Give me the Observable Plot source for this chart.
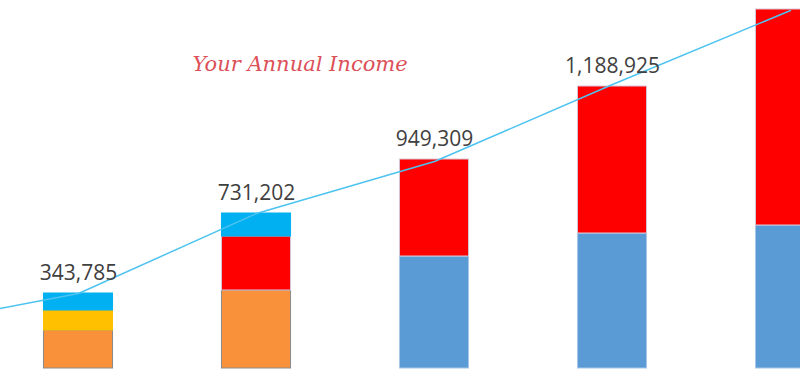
<!DOCTYPE html>
<html>
<head>
<meta charset="utf-8">
<script src="https://cdn.jsdelivr.net/npm/d3@7"></script>
<script src="https://cdn.jsdelivr.net/npm/@observablehq/plot@0.6"></script>
<style>
  html, body { margin: 0; padding: 0; background: #fff; }
  #chart { width: 800px; height: 381px; overflow: hidden; }
</style>
</head>
<body>
<div id="chart"></div>
<script>
// ---- Data ----
const barIndex   = [0, 1, 2, 3, 4];
const orangePart = [171000, 351000, 0, 0, 0];
const yellowPart = [90000, 0, 0, 0, 0];
const bluePart   = [0, 0, 504000, 607500, 643500];
const redPart    = [0, 243000, 436500, 661500, 972000];
const cyanPart   = [76500, 103500, 0, 0, 0];

const seriesNames  = ["orange", "yellow", "blue", "red", "cyan"];
const seriesValues = [orangePart, yellowPart, bluePart, redPart, cyanPart];
const seriesColors = ["#f9913a", "#ffc000", "#5b9bd5", "#ff0000", "#00b0f0"];
const seriesStroke = ["#8a8a8a", "#ffc000", "#a9c8e8", "#d7c6d6", "#00b0f0"];

const labelIndex = [0, 1, 2, 3];
const labelText  = ["343,785", "731,202", "949,309", "1,188,925"];

const lineIndex  = [-1, 0, 1, 2, 3, 4];
const lineValues = [184500, 337500, 697500, 931500, 1278000, 1611000];

const titleText = "Your Annual Income";

// ---- Build tables ----
const segments = [];
const totals = barIndex.map(() => 0);
barIndex.forEach((b, bi) => {
  seriesNames.forEach((s, si) => {
    const v = seriesValues[si][bi];
    if (v > 0) {
      segments.push({i: b, series: s, y1: totals[bi], y2: totals[bi] + v,
                     fill: seriesColors[si], stroke: seriesStroke[si]});
      totals[bi] += v;
    }
  });
});
const labels = labelIndex.map((b, k) => ({i: b, y: totals[b], text: labelText[k]}));
const linePts = lineIndex.map((b, k) => ({i: b, y: lineValues[k]}));

const half = 0.194;

const chart = Plot.plot({
  width: 800,
  height: 381,
  marginTop: 0,
  marginBottom: 13,
  marginLeft: 0,
  marginRight: 0,
  x: {type: "linear", domain: [-78 / 178, 722 / 178], axis: null},
  y: {domain: [0, 1656000], axis: null},
  style: {fontFamily: "'Open Sans', sans-serif", background: "#fff"},
  marks: [
    Plot.rect(segments, {
      x1: d => d.i - half, x2: d => d.i + half,
      y1: "y1", y2: "y2",
      fill: d => d.fill, stroke: d => d.stroke, strokeWidth: 1
    }),
    Plot.line(linePts, {x: "i", y: "y", stroke: "#4dc3f0", strokeWidth: 1.5}),
    Plot.text(labels, {
      x: "i", y: "y", text: "text", lineAnchor: "bottom", dy: -14,
      fontSize: 21, fill: "#404040", fontFamily: "'Open Sans', sans-serif"
    }),
    Plot.text([titleText], {
      frameAnchor: "top-left", textAnchor: "start", lineAnchor: "bottom",
      dx: 192, dy: 70, fontSize: 21, fontStyle: "italic",
      fill: "#dc5058", fontFamily: "'DejaVu Serif', serif"
    })
  ]
});
document.getElementById("chart").appendChild(chart);
</script>
</body>
</html>
